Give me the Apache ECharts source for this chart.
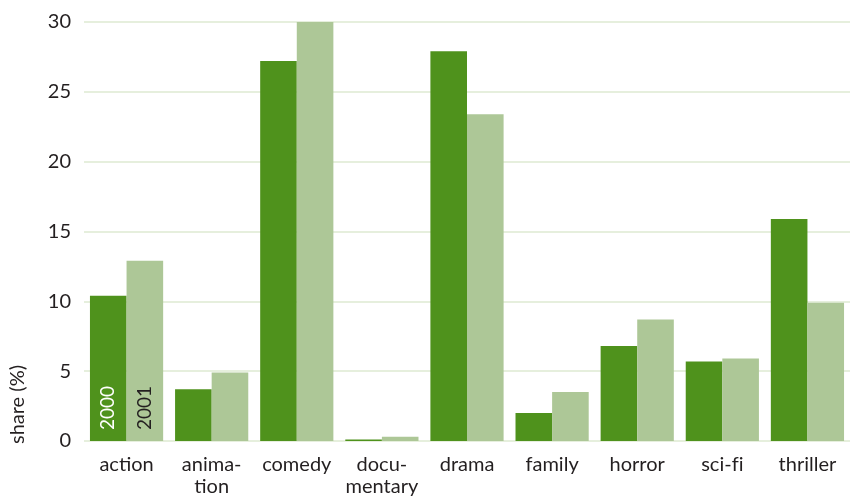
<!DOCTYPE html>
<html>
<head>
<meta charset="utf-8">
<script src="https://cdn.jsdelivr.net/npm/echarts@6/dist/echarts.min.js"></script>
<style>
  html, body { margin: 0; padding: 0; background: #ffffff; }
  #chart { width: 850px; height: 498px; }
</style>
</head>
<body>
<div id="chart"></div>
<script>
// Genre share of releases, two consecutive years
const genres = ['action', 'anima-\ntion', 'comedy', 'docu-\nmentary', 'drama', 'family', 'horror', 'sci-fi', 'thriller'];
const share2000 = [10.4, 3.7, 27.2, 0.1, 27.9, 2.0, 6.8, 5.7, 15.9];
const share2001 = [12.9, 4.9, 30.0, 0.3, 23.4, 3.5, 8.7, 5.9, 9.9];
const yearNames = ['2000', '2001'];
const yTicks = [0, 5, 10, 15, 20, 25, 30];

const FONT = 'Lato, "DejaVu Sans", sans-serif';
const TEXT = '#231f20';

// The year is written inside the first bar of each series, acting as legend
function withYearLabel(values, name, color) {
  return values.map((v, i) => i === 0 ? {
    value: v,
    label: {
      show: true,
      formatter: name,
      position: 'insideBottom',
      rotate: 90,
      align: 'left',
      verticalAlign: 'middle',
      distance: 11,
      color: color,
      fontFamily: FONT,
      fontSize: 19
    }
  } : v);
}

const chart = echarts.init(document.getElementById('chart'), null, { renderer: 'canvas' });
chart.setOption({
  animation: false,
  grid: { left: 84, right: 0, top: 22, bottom: 57, containLabel: false },
  xAxis: {
    type: 'category',
    data: genres,
    axisLine: { show: false },
    axisTick: { show: false },
    axisLabel: {
      color: TEXT,
      fontFamily: FONT,
      fontSize: 20,
      margin: 13,
      lineHeight: 22,
      interval: 0,
      // keep "f" and "i" as separate glyphs (no ligature)
      formatter: (s) => s.replace(/fi/g, 'f\u200Ci')
    }
  },
  yAxis: {
    type: 'value',
    min: yTicks[0],
    max: yTicks[yTicks.length - 1],
    interval: 5,
    axisLine: { show: false },
    axisTick: { show: false },
    axisLabel: {
      color: TEXT,
      fontFamily: FONT,
      fontSize: 20,
      margin: 13
    },
    splitLine: { lineStyle: { color: '#e6efdd', width: 2 } }
  },
  graphic: [{
    type: 'text',
    left: 8,
    top: 365,
    rotation: Math.PI / 2,
    style: {
      text: 'share (%)',
      fill: TEXT,
      font: '20px ' + FONT
    }
  }],
  series: [
    {
      name: yearNames[0],
      type: 'bar',
      data: withYearLabel(share2000, yearNames[0], '#ffffff'),
      itemStyle: { color: '#4f921c' },
      barGap: '0%',
      barCategoryGap: '14%'
    },
    {
      name: yearNames[1],
      type: 'bar',
      data: withYearLabel(share2001, yearNames[1], TEXT),
      itemStyle: { color: '#adc797' },
      barGap: '0%',
      barCategoryGap: '14%'
    }
  ]
});
</script>
</body>
</html>
